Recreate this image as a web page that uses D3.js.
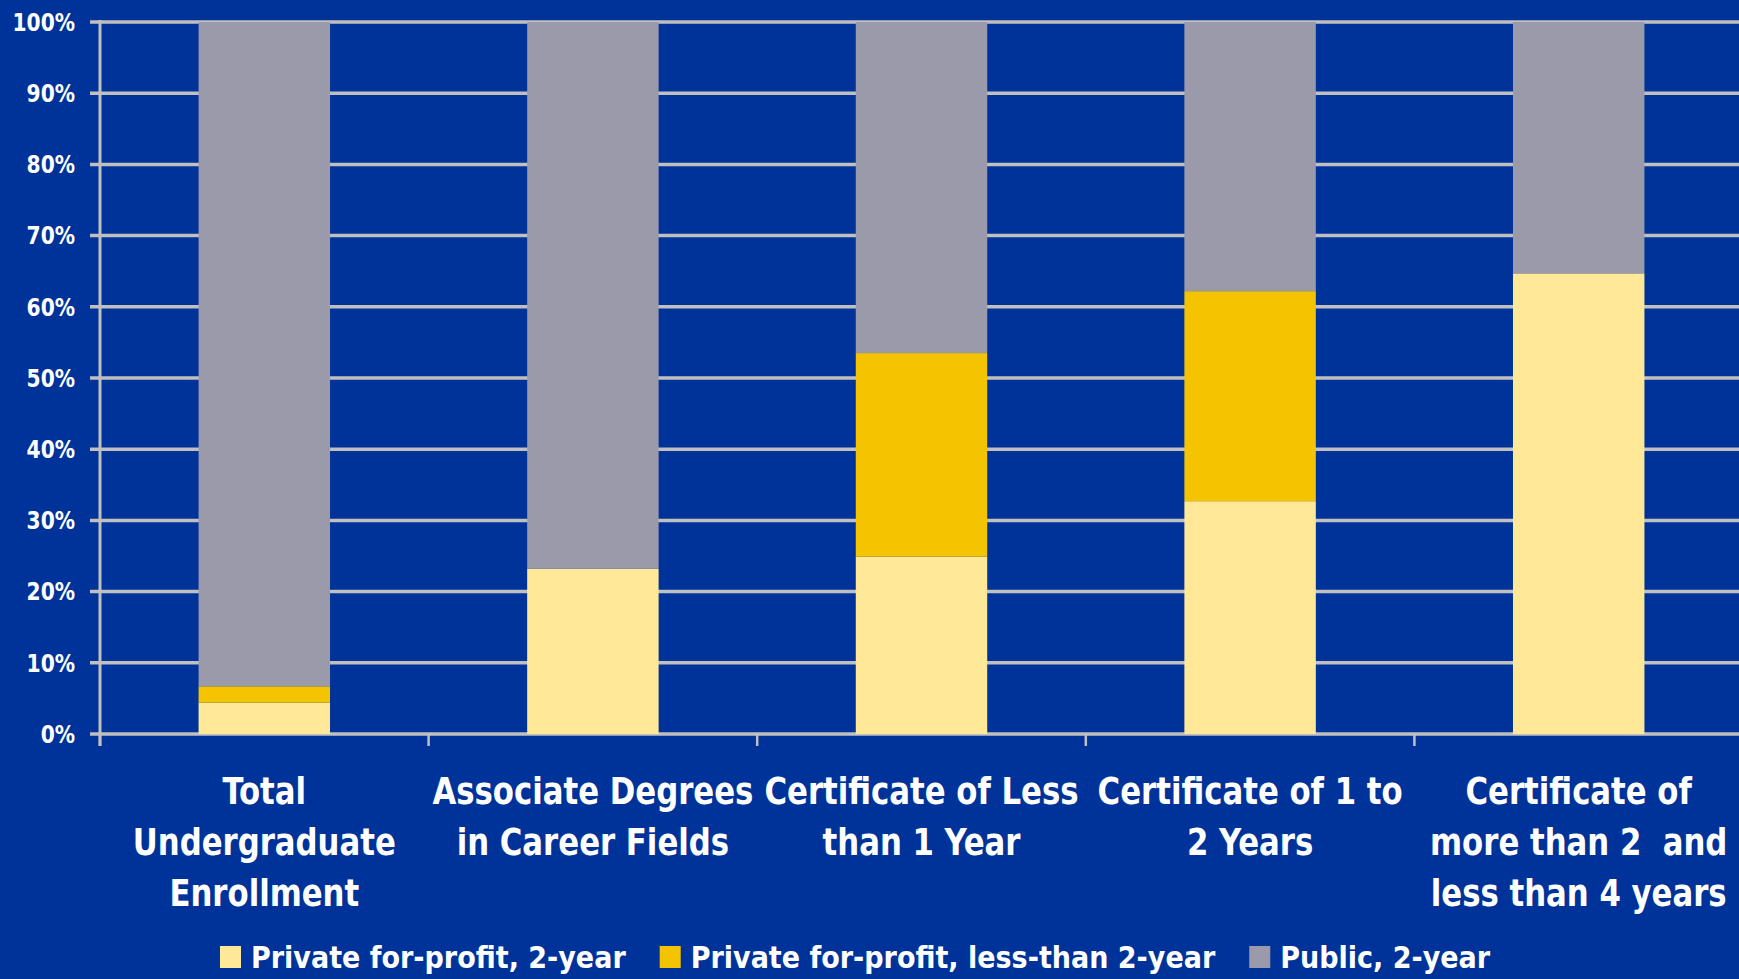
<!DOCTYPE html>
<html>
<head>
<meta charset="utf-8">
<script src="https://cdn.jsdelivr.net/npm/d3@7"></script>
<style>
	html, body { margin: 0; padding: 0; background: #003399; overflow: hidden; }
	svg { display: block; }
	text { font-family: "DejaVu Sans Condensed", "DejaVu Sans", sans-serif; font-weight: bold; fill: #ffffff; }
</style>
</head>
<body>
<div id="chart"></div>
<script>
// Categories (each entry split into the label's lines)
var categories = [
	['Total', 'Undergraduate', 'Enrollment'],
	['Associate Degrees', 'in Career Fields'],
	['Certificate of Less', 'than 1 Year'],
	['Certificate of 1 to', '2 Years'],
	['Certificate of', 'more than 2  and', 'less than 4 years']
];

// Series values, percent of each column
var privateTwoYear  = [4.4, 23.2, 24.9, 32.7, 64.7];
var privateLessTwo  = [2.3, 0, 28.6, 29.5, 0];
var publicTwoYear   = [93.3, 76.8, 46.5, 37.8, 35.3];

var seriesNames = ['Private for-profit, 2-year', 'Private for-profit, less-than 2-year', 'Public, 2-year'];
var seriesColors = ['#ffe999', '#f5c400', '#9a9aab'];
var yTicks = [0, 10, 20, 30, 40, 50, 60, 70, 80, 90, 100];

var width = 1739;
var height = 979;
var gridColor = '#c0c0c0';

// build the table d3.stack needs
var keys = ['p2', 'pl2', 'pub'];
var rows = categories.map(function(c, i) {
	return { cat: c.join(' '), p2: privateTwoYear[i], pl2: privateLessTwo[i], pub: publicTwoYear[i] };
});

var svg = d3.select('#chart')
	.append('svg')
	.attr('width', width)
	.attr('height', height);

svg.append('rect')
	.attr('width', width)
	.attr('height', height)
	.attr('fill', '#003399');

var x = d3.scaleBand()
	.domain(rows.map(function(d) { return d.cat; }))
	.range([100, 1743])
	.paddingInner(0.6)
	.paddingOuter(0.3);

var y = d3.scaleLinear()
	.domain([0, 100])
	.range([734, 22]);

// horizontal gridlines
svg.append('g')
	.selectAll('line')
	.data(yTicks)
	.enter()
	.append('line')
	.attr('x1', 90)
	.attr('x2', width)
	.attr('y1', function(d) { return y(d); })
	.attr('y2', function(d) { return y(d); })
	.attr('stroke', gridColor)
	.attr('stroke-width', 3.5);

// vertical axis line
svg.append('line')
	.attr('x1', 100).attr('x2', 100)
	.attr('y1', y(100) - 2).attr('y2', y(0) + 12)
	.attr('stroke', gridColor)
	.attr('stroke-width', 3);

// category ticks at band boundaries
var step = x.step();
svg.append('g')
	.selectAll('line')
	.data(rows)
	.enter()
	.append('line')
	.attr('x1', function(d) { return x(d.cat) - step * 0.3; })
	.attr('x2', function(d) { return x(d.cat) - step * 0.3; })
	.attr('y1', y(0))
	.attr('y2', y(0) + 12)
	.attr('stroke', gridColor)
	.attr('stroke-width', 2.5);

// y tick labels, squeezed a little to match the narrow original face
svg.append('g')
	.selectAll('text')
	.data(yTicks)
	.enter()
	.append('text')
	.attr('transform', function(d) { return 'translate(75,' + y(d) + ') scale(0.9,1)'; })
	.attr('dy', '0.35em')
	.attr('text-anchor', 'end')
	.style('font-size', '25px')
	.text(function(d) { return d + '%'; });

// stacked bars
var stack = d3.stack().keys(keys);
var layers = stack(rows);

svg.append('g')
	.selectAll('g')
	.data(layers)
	.enter()
	.append('g')
	.attr('fill', function(d, i) { return seriesColors[i]; })
	.selectAll('rect')
	.data(function(d) { return d; })
	.enter()
	.append('rect')
	.attr('x', function(d) { return x(d.data.cat); })
	.attr('width', x.bandwidth())
	.attr('y', function(d) { return y(d[1]); })
	.attr('height', function(d) { return y(d[0]) - y(d[1]); });

// category labels
var catLabels = svg.append('g')
	.selectAll('text')
	.data(categories)
	.enter()
	.append('text')
	.attr('text-anchor', 'middle')
	.style('font-size', '38px')
	.attr('transform', function(d, i) { return 'translate(' + (x(rows[i].cat) + x.bandwidth() / 2) + ',804) scale(0.9,1)'; });

catLabels.selectAll('tspan')
	.data(function(d) { return d; })
	.enter()
	.append('tspan')
	.attr('x', 0)
	.attr('y', function(d, i) { return i * 51; })
	.style('white-space', 'pre')
	.text(function(d) { return d; });

// legend
var legend = svg.append('g').attr('transform', 'translate(220,957)');
var lx = 0;
seriesNames.forEach(function(name, i) {
	var item = legend.append('g').attr('transform', 'translate(' + lx + ',0)');
	item.append('rect')
		.attr('x', 0)
		.attr('y', -11)
		.attr('width', 21)
		.attr('height', 22)
		.attr('fill', seriesColors[i]);
	var t = item.append('text')
		.attr('x', 31)
		.attr('dy', '0.35em')
		.style('font-size', '30px')
		.text(name);
	lx += 31 + t.node().getComputedTextLength() + 34;
});
</script>
</body>
</html>
